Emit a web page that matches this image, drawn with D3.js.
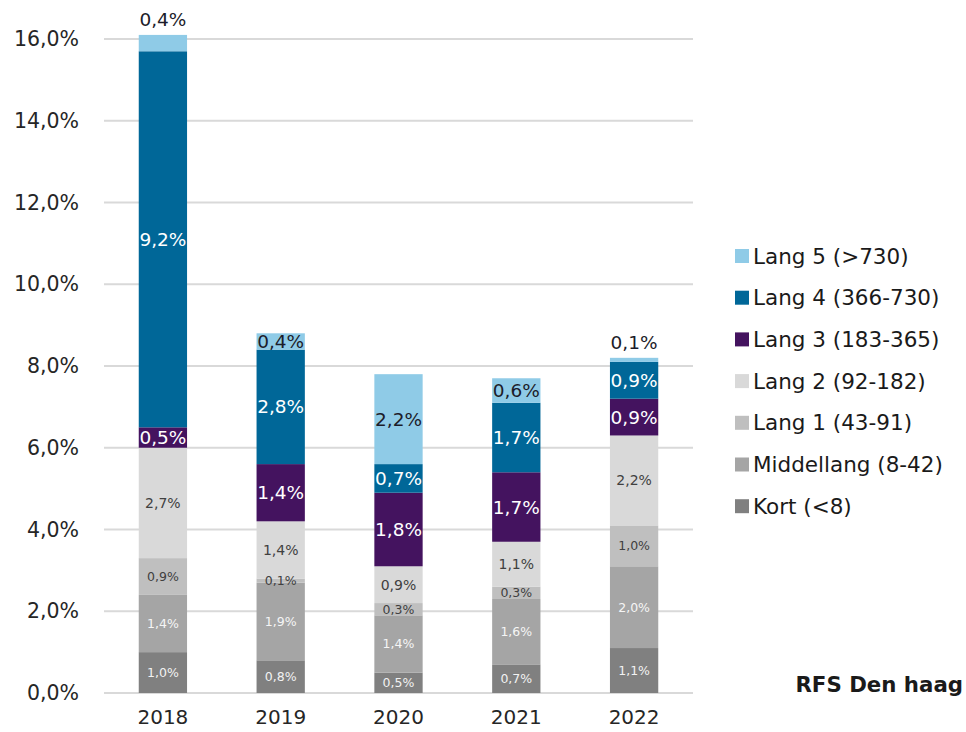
<!DOCTYPE html>
<html>
<head>
<meta charset="utf-8">
<script src="https://cdn.jsdelivr.net/npm/d3@7"></script>
<style>
  body { margin: 0; background: #fff; }
  svg { font-family: "DejaVu Sans", Verdana, sans-serif; }
</style>
</head>
<body>
<div id="chart"></div>
<script>
// years and the seven duration classes (bottom to top)
const years = ["2018", "2019", "2020", "2021", "2022"];
const series = ["Kort (<8)", "Middellang (8-42)", "Lang 1 (43-91)", "Lang 2 (92-182)",
                "Lang 3 (183-365)", "Lang 4 (366-730)", "Lang 5 (>730)"];

const kort       = [1.0, 0.8, 0.5, 0.7, 1.1];
const middellang = [1.4, 1.9, 1.4, 1.6, 2.0];
const lang1      = [0.9, 0.1, 0.3, 0.3, 1.0];
const lang2      = [2.7, 1.4, 0.9, 1.1, 2.2];
const lang3      = [0.5, 1.4, 1.8, 1.7, 0.9];
const lang4      = [9.2, 2.8, 0.7, 1.7, 0.9];
const lang5      = [0.4, 0.4, 2.2, 0.6, 0.1];

const yTicks = [0, 2, 4, 6, 8, 10, 12, 14, 16];

const colors     = ["#808080", "#a5a5a5", "#bfbfbf", "#d9d9d9", "#44135f", "#006798", "#8fcbe7"];
const textColors = ["#f2f2f2", "#f5f5f5", "#404040", "#404040", "#ffffff", "#ffffff", "#1c1c2a"];
const textSizes  = [12.5, 12.5, 12.5, 14, 18.5, 18.5, 18.5];

// lang 5 label sits above the bar for these years
const aboveBar = [true, false, false, false, true];

const values = [kort, middellang, lang1, lang2, lang3, lang4, lang5];

const data = years.map((yr, i) => {
    let row = { year: yr };
    series.forEach((s, k) => row[s] = values[k][i]);
    return row;
});

const width = 966, height = 732,
      margin = ({ top: 39, right: 273, bottom: 39, left: 104 });

const nl = d3.formatLocale({ decimal: ",", thousands: ".", grouping: [3], currency: ["€", ""] });
const fmt = d => nl.format(".1f")(d) + "%";

let svg = d3.select("#chart")
    .append("svg")
    .attr("width", width)
    .attr("height", height);

let x = d3.scaleBand()
    .domain(years)
    .range([margin.left, width - margin.right])
    .paddingInner(0.59)
    .paddingOuter(0.295);

let y = d3.scaleLinear()
    .domain([0, 16])
    .range([height - margin.bottom, margin.top]);

// gridlines
svg.append("g")
    .selectAll("line")
    .data(yTicks)
    .join("line")
    .attr("x1", margin.left)
    .attr("x2", width - margin.right)
    .attr("y1", d => y(d))
    .attr("y2", d => y(d))
    .attr("stroke", "#d9d9d9")
    .attr("stroke-width", 2);

// y axis labels
let yAxis = svg.append("g")
    .attr("transform", `translate(${margin.left - 22},0)`)
    .call(d3.axisLeft(y).tickValues(yTicks).tickFormat(fmt).tickSize(0));
yAxis.select(".domain").remove();
yAxis.selectAll("text")
    .attr("font-size", 20.5)
    .attr("font-family", "DejaVu Sans, Verdana, sans-serif")
    .attr("fill", "#262626");

// x axis labels
let xAxis = svg.append("g")
    .attr("transform", `translate(0,${height - margin.bottom + 14})`)
    .call(d3.axisBottom(x).tickSize(0));
xAxis.select(".domain").remove();
xAxis.selectAll("text")
    .attr("font-size", 20)
    .attr("font-family", "DejaVu Sans, Verdana, sans-serif")
    .attr("fill", "#262626");

let stacked = d3.stack().keys(series)(data);

let layer = svg.selectAll(".layer")
    .data(stacked)
    .join("g")
    .attr("class", "layer")
    .attr("fill", (d, k) => colors[k]);

layer.selectAll("rect")
    .data(d => d)
    .join("rect")
    .attr("x", d => x(d.data.year))
    .attr("width", x.bandwidth())
    .attr("y", d => y(d[1]))
    .attr("height", d => y(d[0]) - y(d[1]));

// segment labels
stacked.forEach((s, k) => {
    svg.append("g")
        .selectAll("text")
        .data(s)
        .join("text")
        .text(d => fmt(d[1] - d[0]))
        .attr("x", d => x(d.data.year) + x.bandwidth() / 2)
        .attr("y", (d, i) => (k === 6 && aboveBar[i]) ? y(d[1]) - 15 : (y(d[0]) + y(d[1])) / 2)
        .attr("text-anchor", "middle")
        .attr("dominant-baseline", "central")
        .attr("font-size", textSizes[k])
        .attr("fill", textColors[k]);
});

// legend, top entry is Lang 5
let legend = svg.append("g")
    .selectAll("g")
    .data(series.slice().reverse())
    .join("g")
    .attr("transform", (d, i) => `translate(735,${256 + i * 41.7})`);

legend.append("rect")
    .attr("x", 0)
    .attr("y", -7)
    .attr("width", 14)
    .attr("height", 14)
    .attr("fill", d => colors[series.indexOf(d)]);

legend.append("text")
    .text(d => d)
    .attr("x", 18)
    .attr("y", 0)
    .attr("dominant-baseline", "central")
    .attr("font-size", 21.5)
    .attr("fill", "#1a1a1a");

svg.append("text")
    .text("RFS Den haag")
    .attr("x", 963)
    .attr("y", 684)
    .attr("text-anchor", "end")
    .attr("dominant-baseline", "central")
    .attr("font-size", 21.3)
    .attr("font-weight", "bold")
    .attr("fill", "#1a1a1a");
</script>
</body>
</html>
